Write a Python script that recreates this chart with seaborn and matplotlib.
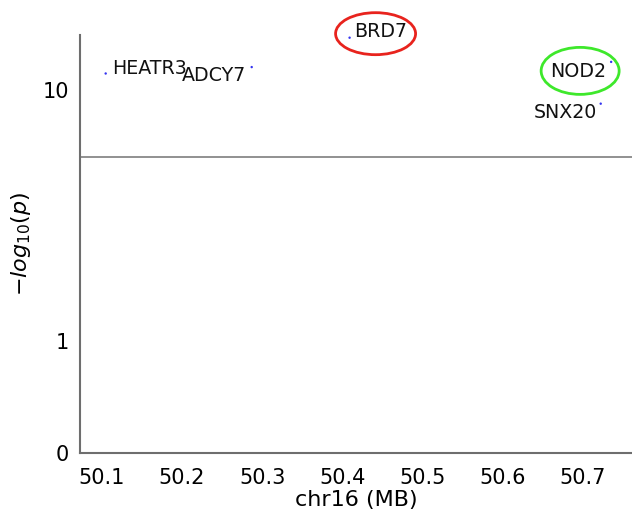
import numpy as np
import pandas as pd
import matplotlib.pyplot as plt
import matplotlib.transforms as mtransforms
from matplotlib.patches import Ellipse
import seaborn as sns

genes = ["HEATR3", "ADCY7", "BRD7", "NOD2", "SNX20"]
pos_mb = [50.105, 50.287, 50.409, 50.735, 50.722]
neg_log_p = [11.6, 12.3, 16.1, 12.9, 8.8]
sig_line = 5.4
y_ticks = [0, 1, 10]
x_ticks = [50.1, 50.2, 50.3, 50.4, 50.5, 50.6, 50.7]

df = pd.DataFrame({"gene": genes, "pos": pos_mb, "p": neg_log_p})

sns.set_style("white")
plt.rcParams["font.family"] = ["DejaVu Sans"]
plt.rcParams["text.color"] = "black"
plt.rcParams["axes.labelcolor"] = "black"

fig = plt.figure(figsize=(6.32, 5.14), dpi=100)
ax = fig.add_axes([80 / 632, 1 - 453 / 514, 1 - 80 / 632, (453 - 35) / 514])

sns.scatterplot(data=df, x="pos", y="p", color="#3434f0", s=3, marker="o",
                edgecolor="none", ax=ax, legend=False)
ax.axhline(sig_line, color="#888888", lw=1.3)

ax.set_yscale("symlog", linthresh=1, linscale=0.4)
ax.set_ylim(0, 16.5)
ax.set_xlim(50.073, 50.761)
ax.set_yticks(y_ticks)
ax.set_yticklabels([str(t) for t in y_ticks])
ax.yaxis.set_minor_locator(plt.NullLocator())
ax.set_xticks(x_ticks)
ax.set_xticklabels([f"{t:.1f}" for t in x_ticks])
ax.tick_params(labelsize=15, length=4, color="#666666", width=1,
               labelcolor="black", pad=4)
ax.tick_params(axis="x", pad=7)

ax.set_xlabel("chr16 (MB)", fontsize=16, labelpad=1)
ax.set_ylabel(r"$-log_{10}(p)$", fontsize=16, labelpad=7)

for side in ["top", "right"]:
    ax.spines[side].set_visible(False)
for side in ["left", "bottom"]:
    ax.spines[side].set_color("#6e6e6e")
    ax.spines[side].set_linewidth(1.5)

# label offsets in pixels
offsets = {
    "HEATR3": (6, 5, "left"),
    "ADCY7": (-6, -8, "right"),
    "BRD7": (5, 6, "left"),
    "NOD2": (-5, -10, "right"),
    "SNX20": (-4, -9, "right"),
}
for g, x, y in zip(genes, pos_mb, neg_log_p):
    dx, dy, ha = offsets[g]
    ax.annotate(g, (x, y), xytext=(dx, dy), textcoords="offset pixels",
                ha=ha, va="center", fontsize=13.7, color="#111111",
                annotation_clip=False)

# highlight ellipses around chosen genes
highlight = {"BRD7": ((26, 4), 80, 42, "#e8231d"),
             "NOD2": ((-31, -9), 78, 47, "#3ee82b")}
for g, x, y in zip(genes, pos_mb, neg_log_p):
    if g in highlight:
        (cx, cy), w, h, col = highlight[g]
        tr = mtransforms.ScaledTranslation(x, y, ax.transData)
        ax.add_patch(Ellipse((cx, cy), w, h, transform=tr, fill=False,
                             edgecolor=col, lw=2, clip_on=False))

fig.savefig("out.png", dpi=100)
